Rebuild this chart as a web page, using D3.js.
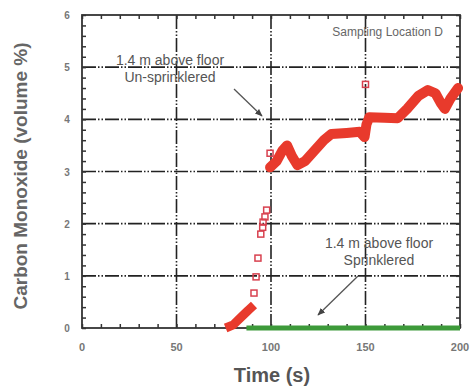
<!DOCTYPE html>
<html>
<head>
<meta charset="utf-8">
<script src="https://cdn.jsdelivr.net/npm/d3@7"></script>
<style>
  body { margin: 0; background: #fff; }
  svg { display: block; font-family: Arial, "Liberation Sans", sans-serif; }
</style>
</head>
<body>
<svg id="chart"></svg>
<script>
// time (s) and CO (volume %)
const rampT = [76, 80, 84, 88, 91];
const rampV = [0, 0.06, 0.2, 0.34, 0.44];
const unsprT = [99.5, 103, 106, 108.5, 111, 114, 118, 123, 128, 132, 140, 147, 149.5, 150.5, 152, 160, 167, 172, 178, 183, 187, 190, 192, 195, 199];
const unsprV = [3.08, 3.2, 3.4, 3.5, 3.3, 3.12, 3.2, 3.4, 3.6, 3.72, 3.74, 3.76, 3.66, 3.9, 4.04, 4.03, 4.02, 4.2, 4.45, 4.56, 4.5, 4.3, 4.2, 4.4, 4.6];
const squareT = [91, 92.1, 93.1, 94.6, 95.6, 95.8, 96.8, 97.7, 99.5, 150];
const squareV = [0.67, 0.98, 1.34, 1.8, 1.93, 2.03, 2.13, 2.26, 3.35, 4.67];
const sprT = [87, 200];
const sprV = [0, 0];
const xTicks = [0, 50, 100, 150, 200];
const yTicks = [0, 1, 2, 3, 4, 5, 6];

const width = 470, height = 387;
const marginLeft = 82, marginRight = 10, marginTop = 15, marginBottom = 59;

const svg = d3.select("#chart").attr("width", width).attr("height", height);

const x = d3.scaleLinear().domain([0, 200]).range([marginLeft, width - marginRight]);
const y = d3.scaleLinear().domain([0, 6]).range([height - marginBottom, marginTop]);

// gridlines
const grid = svg.append("g").attr("stroke", "#222").attr("stroke-width", 1.6)
  .attr("stroke-dasharray", "14,2,1.5,2,1.5,2");
grid.selectAll(".gy").data(yTicks.slice(1, -1)).join("line")
  .attr("x1", x(0)).attr("x2", x(200))
  .attr("y1", d => y(d)).attr("y2", d => y(d));
grid.selectAll(".gx").data(xTicks.slice(1, -1)).join("line")
  .attr("y1", y(0)).attr("y2", y(6))
  .attr("x1", d => x(d)).attr("x2", d => x(d));

// axes with inward minor ticks
const minorX = d3.range(0, 201, 10);
const minorY = d3.range(0, 6.01, 0.2);
function tickStyle(g) {
  g.select(".domain").remove();
  g.selectAll(".tick line").attr("stroke", "#333").attr("stroke-width", 1.5);
  g.selectAll(".tick text").remove();
}
svg.append("g").attr("transform", `translate(0,${y(0)})`)
  .call(d3.axisBottom(x).tickValues(minorX).tickSize(-4)).call(tickStyle);
svg.append("g").attr("transform", `translate(0,${y(6)})`)
  .call(d3.axisTop(x).tickValues(minorX).tickSize(-4)).call(tickStyle);
svg.append("g").attr("transform", `translate(${x(0)},0)`)
  .call(d3.axisLeft(y).tickValues(minorY).tickSize(-4)).call(tickStyle);
svg.append("g").attr("transform", `translate(${x(200)},0)`)
  .call(d3.axisRight(y).tickValues(minorY).tickSize(-4)).call(tickStyle);

svg.append("rect")
  .attr("x", x(0)).attr("y", y(6))
  .attr("width", x(200) - x(0)).attr("height", y(0) - y(6))
  .attr("fill", "none").attr("stroke", "#333").attr("stroke-width", 1.8);

// tick labels
svg.append("g").selectAll("text").data(xTicks).join("text")
  .attr("x", d => x(d)).attr("y", y(0) + 23)
  .attr("text-anchor", "middle").attr("font-size", 11).attr("font-weight", "bold")
  .attr("fill", "#777").text(d => d);
svg.append("g").selectAll("text").data(yTicks).join("text")
  .attr("x", x(0) - 15).attr("y", d => y(d) + 4)
  .attr("text-anchor", "middle").attr("font-size", 10).attr("font-weight", "bold")
  .attr("fill", "#777").text(d => d);

// axis titles
svg.append("text").attr("x", 272).attr("y", 382)
  .attr("text-anchor", "middle").attr("font-size", 20).attr("font-weight", "bold")
  .attr("fill", "#555").text("Time (s)");
svg.append("text").attr("transform", `translate(27,176) rotate(-90)`)
  .attr("text-anchor", "middle").attr("font-size", 19).attr("font-weight", "bold")
  .attr("fill", "#666").text("Carbon Monoxide (volume %)");

// data
const line = d3.line().x(d => x(d[0])).y(d => y(d[1]));
svg.append("path").datum(sprT.map((t, i) => [t, sprV[i]]))
  .attr("d", line).attr("fill", "none").attr("stroke", "#3d9a3a").attr("stroke-width", 5);
svg.append("path").datum(rampT.map((t, i) => [t, rampV[i]]))
  .attr("d", line).attr("fill", "none").attr("stroke", "#e83a2c")
  .attr("stroke-width", 9).attr("stroke-linejoin", "round");
svg.append("path").datum(unsprT.map((t, i) => [t, unsprV[i]]))
  .attr("d", line).attr("fill", "none").attr("stroke", "#e83a2c")
  .attr("stroke-width", 10).attr("stroke-linejoin", "round").attr("stroke-linecap", "round");
svg.append("g").selectAll("rect").data(squareT.map((t, i) => [t, squareV[i]])).join("rect")
  .attr("x", d => x(d[0]) - 3).attr("y", d => y(d[1]) - 3)
  .attr("width", 6).attr("height", 6)
  .attr("fill", "none").attr("stroke", "#d8414f").attr("stroke-width", 1.5);

// annotations
svg.append("defs").append("marker").attr("id", "arr")
  .attr("viewBox", "0 0 10 10").attr("refX", 9).attr("refY", 5)
  .attr("markerWidth", 6).attr("markerHeight", 6).attr("orient", "auto")
  .append("path").attr("d", "M0,1 L10,5 L0,9 Z").attr("fill", "#444");

function note(cx, cy, lines) {
  svg.append("text").attr("x", cx).attr("y", cy)
    .attr("text-anchor", "middle").attr("font-size", 14).attr("fill", "#555")
    .selectAll("tspan").data(lines).join("tspan")
    .attr("x", cx).attr("dy", (d, i) => i ? 17 : 0).text(d => d);
}
note(170, 65, ["1.4 m above floor", "Un-sprinklered"]);
note(379, 248, ["1.4 m above floor", "Sprinklered"]);
svg.append("line").attr("x1", 234).attr("y1", 89).attr("x2", 262).attr("y2", 116)
  .attr("stroke", "#555").attr("stroke-width", 1.3).attr("marker-end", "url(#arr)");
svg.append("line").attr("x1", 358).attr("y1", 276).attr("x2", 318).attr("y2", 315)
  .attr("stroke", "#555").attr("stroke-width", 1.3).attr("marker-end", "url(#arr)");

svg.append("text").attr("x", 443).attr("y", 36).attr("text-anchor", "end")
  .attr("font-size", 12).attr("fill", "#666").text("Sampling Location D");
</script>
</body>
</html>
